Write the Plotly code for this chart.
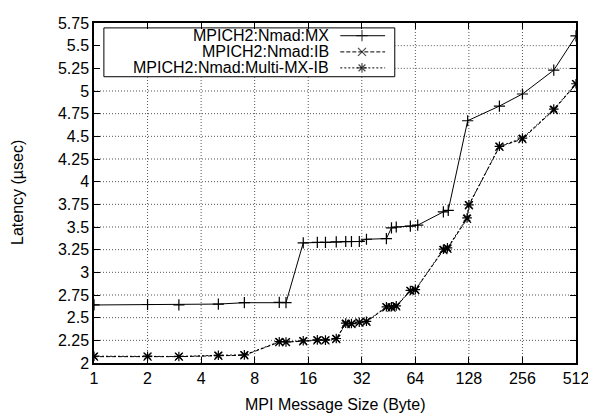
import plotly.graph_objects as go

# message sizes (bytes) and latencies (usec)
mx_size = [1, 2, 3, 5, 7, 11, 12, 15, 18, 20, 23, 26, 28, 31, 34, 44, 47, 50, 60, 66, 92, 98, 126, 190, 256, 384, 512]
mx_lat = [2.64, 2.645, 2.64, 2.65, 2.665, 2.668, 2.665, 3.325, 3.33, 3.33, 3.335, 3.34, 3.34, 3.34, 3.365,
          3.372, 3.49, 3.50, 3.51, 3.52, 3.667, 3.684, 4.672, 4.834, 4.967, 5.23, 5.607]

ib_size = [1, 2, 3, 5, 7, 11, 12, 15, 18, 20, 23, 26, 28, 31, 34, 44, 47, 50, 60, 64, 92, 97, 125, 128, 190, 256, 384, 512]
ib_lat = [2.07, 2.07, 2.07, 2.08, 2.085, 2.23, 2.23, 2.24, 2.25, 2.25, 2.265, 2.43, 2.43, 2.445, 2.455,
          2.614, 2.61, 2.625, 2.795, 2.805, 3.245, 3.26, 3.59, 3.74, 4.385, 4.47, 4.79, 5.075]

multi_size = [1, 2, 3, 5, 7, 11, 12, 15, 18, 20, 23, 26, 28, 31, 34, 44, 47, 50, 60, 64, 92, 97, 125, 128, 190, 256, 384, 512]
multi_lat = [2.075, 2.075, 2.072, 2.085, 2.09, 2.235, 2.232, 2.245, 2.255, 2.252, 2.27, 2.44, 2.435, 2.45, 2.46,
             2.62, 2.62, 2.63, 2.80, 2.81, 3.255, 3.27, 3.60, 3.745, 4.39, 4.48, 4.80, 5.08]

x_ticks = [1, 2, 4, 8, 16, 32, 64, 128, 256, 512]
y_ticks = [2, 2.25, 2.5, 2.75, 3, 3.25, 3.5, 3.75, 4, 4.25, 4.5, 4.75, 5, 5.25, 5.5, 5.75]
y_labels = ["2", "2.25", "2.5", "2.75", "3", "3.25", "3.5", "3.75", "4", "4.25", "4.5", "4.75", "5", "5.25", "5.5", "5.75"]

names = ["MPICH2:Nmad:MX", "MPICH2:Nmad:IB", "MPICH2:Nmad:Multi-MX-IB"]
dashes = ["solid", "4px,2px", "2px,2px"]
symbols = ["cross-thin", "x-thin", "asterisk"]

FONT = "Liberation Sans, Arial, Helvetica, sans-serif"
X_LOG_MAX = 2.70927  # log10(512)
Y_MIN, Y_MAX = 2, 5.75


def px_to_x(p):
    return 10 ** (p * X_LOG_MAX)


def py_to_y(p):
    return Y_MIN + p * (Y_MAX - Y_MIN)


# key box in paper units
KEY_X0, KEY_X1, KEY_Y0, KEY_Y1 = 0.0205, 0.624, 0.842, 0.9856

fig = go.Figure()

# dotted grid as one line trace at the tick values, stopping at the key box like gnuplot
key_right = px_to_x(KEY_X1)
key_bottom = py_to_y(KEY_Y0)
grid_x, grid_y = [], []
for xv in x_ticks[1:-1]:
    top = key_bottom if xv < key_right else Y_MAX
    grid_x += [xv, xv, None]
    grid_y += [Y_MIN, top, None]
for yv in y_ticks[1:-1]:
    left = key_right if yv > key_bottom else x_ticks[0]
    grid_x += [left, x_ticks[-1], None]
    grid_y += [yv, yv, None]
fig.add_trace(go.Scatter(x=grid_x, y=grid_y, mode="lines", showlegend=False, hoverinfo="skip",
                         line=dict(color="#555555", width=1, dash="1px,2px")))

series = [(mx_size, mx_lat), (ib_size, ib_lat), (multi_size, multi_lat)]
for (xs, ys), name, dash, sym in zip(series, names, dashes, symbols):
    fig.add_trace(go.Scatter(
        x=xs, y=ys, name=name, mode="lines+markers",
        line=dict(color="black", width=1, dash=dash),
        marker=dict(symbol=sym, size=8, color="black", line=dict(color="black", width=1.2)),
        showlegend=False,
    ))

# hand-made gnuplot style key: text right aligned, sample on the right
fig.add_shape(type="rect", xref="paper", yref="paper", x0=KEY_X0, x1=KEY_X1, y0=KEY_Y0, y1=KEY_Y1,
              line=dict(color="black", width=1), fillcolor="white", layer="between")

row_y = [0.9626, 0.915, 0.868]
key_x = [0.511, 0.556, 0.604]
for name, dash, sym, ry in zip(names, dashes, symbols, row_y):
    fig.add_trace(go.Scatter(
        x=[px_to_x(p) for p in key_x], y=[py_to_y(ry)] * 3,
        mode="lines+markers", showlegend=False, hoverinfo="skip",
        line=dict(color="black", width=1, dash=dash),
        marker=dict(symbol=sym, size=[0, 8, 0], color="black", line=dict(color="black", width=1.2)),
    ))
    fig.add_annotation(x=0.491, y=ry, xref="paper", yref="paper", text=name, showarrow=False,
                       xanchor="right", yanchor="middle", font=dict(family=FONT, size=16, color="black"))

axis_common = dict(
    showline=True, linecolor="black", linewidth=1.5, mirror="all",
    ticks="inside", ticklen=6, tickcolor="black",
    showgrid=False, zeroline=False, tickfont=dict(family=FONT, size=16, color="black"),
)

# page body has an 8px margin, so the figure is shrunk by that much
fig.update_layout(
    width=588, height=408,
    margin=dict(l=86, r=15, t=7, b=53),
    plot_bgcolor="white",
    font=dict(family=FONT, size=16, color="black"),
    xaxis=dict(type="log", range=[0, X_LOG_MAX], tickvals=x_ticks, ticktext=[str(v) for v in x_ticks], **axis_common),
    yaxis=dict(range=[Y_MIN, Y_MAX], tickvals=y_ticks, ticktext=y_labels, **axis_common),
)

fig.add_annotation(x=0.5, y=0, xref="paper", yref="paper", yshift=-41, text="MPI Message Size (Byte)",
                   showarrow=False, xanchor="center", yanchor="middle", font=dict(family=FONT, size=16))
fig.add_annotation(x=0, y=0.5, xref="paper", yref="paper", xshift=-77, text="Latency (µsec)", textangle=-90,
                   showarrow=False, xanchor="center", yanchor="middle", font=dict(family=FONT, size=16))

fig.write_html("out.html")
